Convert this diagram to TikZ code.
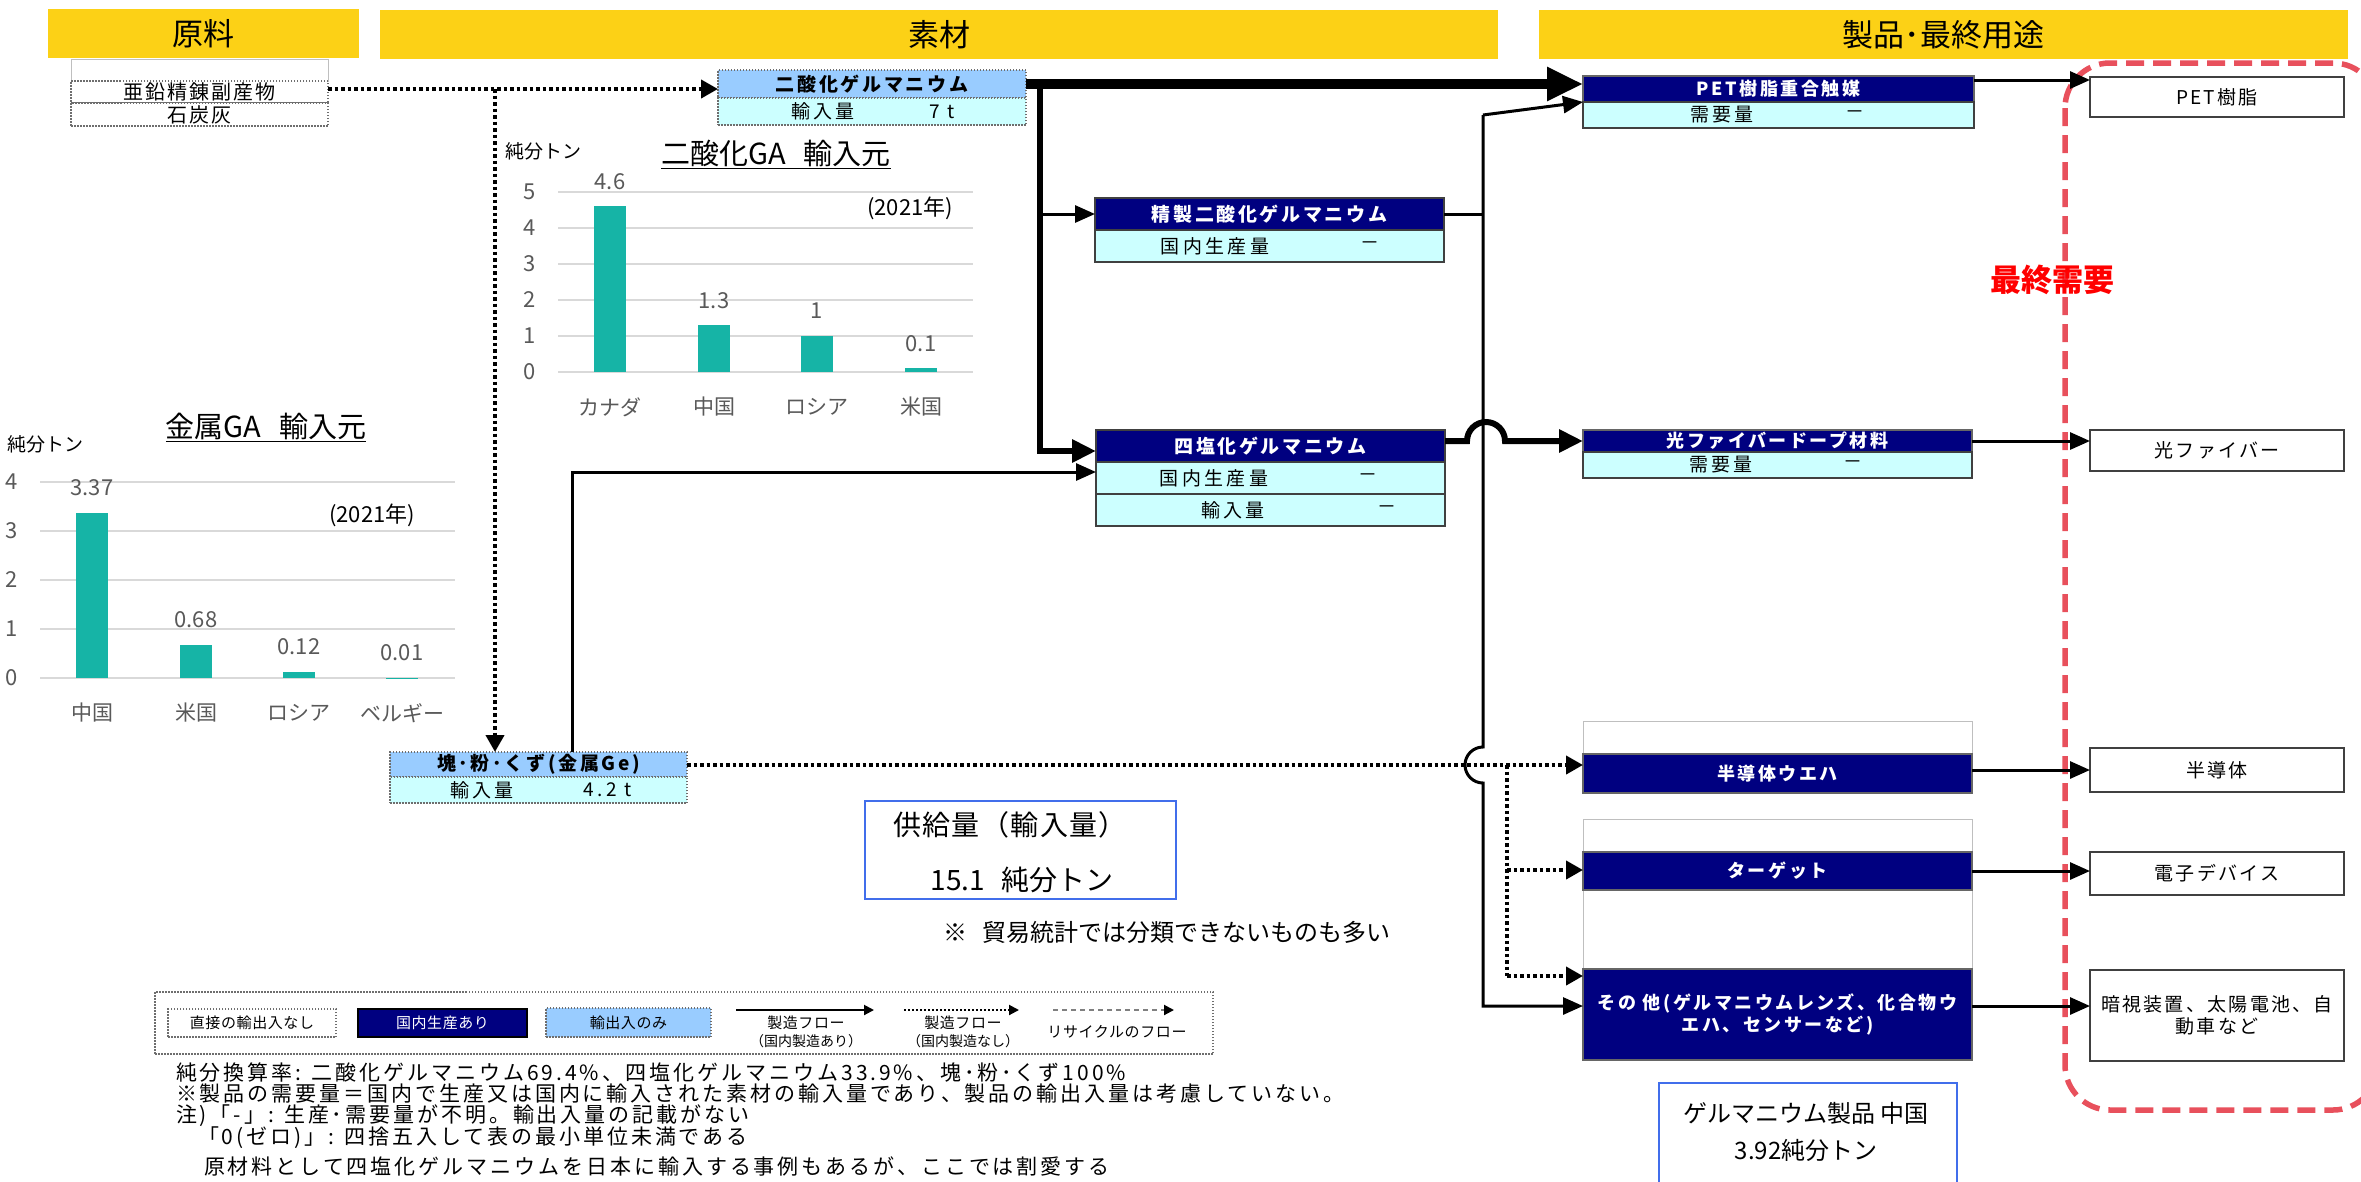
\documentclass[tikz,border=0pt]{standalone}
\usepackage{fontspec}
\setmainfont{Noto Sans CJK JP}
\usetikzlibrary{arrows.meta,calc}
\definecolor{hdrY}{RGB}{252,209,22}
\definecolor{navyC}{RGB}{0,0,128}
\definecolor{lblueC}{RGB}{153,204,255}
\definecolor{lcyanC}{RGB}{204,255,255}
\definecolor{barC}{RGB}{22,180,166}
\definecolor{gridC}{RGB}{217,217,217}
\definecolor{axisC}{RGB}{89,89,89}
\definecolor{redD}{RGB}{232,80,92}
\definecolor{blueB}{RGB}{65,110,235}
\definecolor{endB}{RGB}{64,64,64}
\definecolor{dotB}{RGB}{110,110,110}
\newcommand{\pxf}[1]{\fontsize{#1}{#1}\selectfont}
\newcommand{\lsp}[1]{\addfontfeatures{LetterSpace=#1}}
\newcommand{\rbox}[7]{\node[#2,minimum width={#5-#3},minimum height={#6-#4}] (#1) at ({(#3+#5)/2},{(#4+#6)/2}) {#7};}
\tikzset{
  hdr/.style={fill=hdrY,font=\pxf{31}},
  dotrow/.style={draw=dotB,line width=1.5pt,dash pattern=on 1.5pt off 1.5pt},
  lbhead/.style={dotrow,fill=lblueC,font=\pxf{19}\bfseries\lsp{14}},
  lcrow/.style={dotrow,fill=lcyanC},
  nvhead/.style={fill=navyC,draw=black!75,line width=1.5pt,text=white,font=\pxf{19}\bfseries\lsp{14}},
  cyrow/.style={fill=lcyanC,draw=black!75,line width=1.5pt},
  rowtxt/.style={font=\pxf{19}\lsp{18}},
  prodnv/.style={fill=navyC,draw=black!60,line width=1.5pt,text=white,font=\pxf{18}\bfseries\lsp{14}},
  wbox/.style={draw=black!25,line width=1pt,fill=white},
  endbox/.style={draw=endB,line width=2.5pt,fill=white,font=\pxf{19}\lsp{12}},
  bluebox/.style={draw=blueB,line width=2pt},
  axl/.style={text=axisC,font=\pxf{22}},
  catl/.style={text=axisC,font=\pxf{21}},
  gridl/.style={draw=gridC,line width=2pt},
  fline/.style={line width=3pt},
  fthin/.style={line width=3pt,-{Triangle[length=20pt,width=17pt]}},
  fthick/.style={line width=6pt,-{Triangle[length=24pt,width=22pt]}},
  fmain/.style={line width=10pt,-{Triangle[length=36pt,width=32pt]}},
  fdotline/.style={line width=4pt,dash pattern=on 3.5pt off 3pt},
  fdot/.style={fdotline,-{Triangle[length=17pt,width=18pt]}},
  noteT/.style={anchor=west,font=\pxf{21}\lsp{14}},
  legT/.style={font=\pxf{15}\lsp{4}},
}
\begin{document}
\begin{tikzpicture}[x=1pt,y=-1pt,every node/.style={inner sep=0pt,outer sep=0pt}]
\useasboundingbox (0,0) rectangle (2361,1181);
\clip (0,0) rectangle (2361,1181);
\fill[white] (0,0) rectangle (2361,1181);
% headers
\rbox{hRaw}{hdr}{48}{9}{359}{58}{原料}
\rbox{hMat}{hdr}{380}{10}{1498}{59}{素材}
\rbox{hProd}{hdr}{1539}{10}{2348}{59}{製品･最終用途}
% raw material
\rbox{rawT}{wbox}{71}{59}{328}{81}{}
\rbox{raw1}{dotrow,fill=white,font=\pxf{20}\lsp{10}}{71}{81}{328}{103}{亜鉛精錬副産物}
\rbox{raw2}{dotrow,fill=white,font=\pxf{20}\lsp{10}}{71}{103}{328}{126}{石炭灰}
% GeO2
\rbox{ga2h}{lbhead}{718}{70}{1026}{98}{二酸化ゲルマニウム}
\rbox{ga2r}{lcrow}{718}{98}{1026}{125}{}
\node[rowtxt] (ga2l) at (823,111.5) {輸入量};
\node[rowtxt] (ga2v) at (942,111.5) {7 t};
% metal Ge
\rbox{geh}{lbhead}{390}{752}{687}{777}{塊･粉･くず(金属Ge)}
\rbox{ger}{lcrow}{390}{777}{687}{803}{}
\node[rowtxt] (gel) at (482,790) {輸入量};
\node[rowtxt] (gev) at (608,790) {4.2 t};
% refined GeO2
\rbox{refh}{nvhead}{1095}{198}{1444}{230}{精製二酸化ゲルマニウム}
\rbox{refr}{cyrow}{1095}{230}{1444}{262}{}
\node[rowtxt] (refl) at (1215,246) {国内生産量};
\node[rowtxt] (refv) at (1370,246) {－};
% GeCl4
\rbox{teth}{nvhead}{1096}{430}{1445}{462}{四塩化ゲルマニウム}
\rbox{tetr1}{cyrow}{1096}{462}{1445}{494}{}
\rbox{tetr2}{cyrow}{1096}{494}{1445}{526}{}
\node[rowtxt] (tetl1) at (1214,478) {国内生産量};
\node[rowtxt] (tetv1) at (1368,478) {－};
\node[rowtxt] (tetl2) at (1233,510) {輸入量};
\node[rowtxt] (tetv2) at (1387,510) {－};
% products
\rbox{peth}{prodnv}{1583}{76}{1974}{102}{PET樹脂重合触媒}
\rbox{petr}{cyrow}{1583}{102}{1974}{128}{}
\node[rowtxt] (petl) at (1722,115) {需要量};
\node[rowtxt] (petv) at (1855,115) {－};
\rbox{fibh}{prodnv}{1583}{430}{1972}{452}{光ファイバードープ材料}
\rbox{fibr}{cyrow}{1583}{452}{1972}{478}{}
\node[rowtxt] (fibl) at (1721,465) {需要量};
\node[rowtxt] (fibv) at (1853,465) {－};
\rbox{semiT}{wbox}{1583}{721}{1972}{754}{}
\rbox{semiN}{prodnv}{1583}{754}{1972}{793}{半導体ウエハ}
\rbox{tgtT}{wbox}{1583}{819}{1972}{969}{}
\rbox{tgtN}{prodnv}{1583}{852}{1972}{890}{ターゲット}
\rbox{othN}{prodnv,align=center,font=\fontsize{18}{22}\selectfont\bfseries\lsp{14}}{1583}{969}{1972}{1060}{その 他(ゲルマニウムレンズ、化合物ウ\\エハ、センサーなど)}
% end uses
\draw[redD,line width=5.5pt,dash pattern=on 18pt off 9pt,rounded corners=45pt] (2065,63) rectangle (2378,1110);
\rbox{e1}{endbox}{2090}{77}{2344}{117}{PET樹脂}
\rbox{e2}{endbox}{2090}{430}{2344}{471}{光ファイバー}
\rbox{e3}{endbox}{2090}{748}{2344}{792}{半導体}
\rbox{e4}{endbox}{2090}{852}{2344}{895}{電子デバイス}
\rbox{e5}{endbox,align=center,font=\fontsize{19}{22}\selectfont\lsp{12}}{2090}{970}{2344}{1061}{暗視装置、太陽電池、自\\動車など}
\node[text=red,font=\pxf{31}\bfseries] (fd) at (2052,280) {最終需要};
% chart 1
\node[font=\pxf{19}] (c1u) at (543,151) {純分トン};
\node[font=\pxf{29}] (c1t) at (776,154) {\underline{二酸化GA\hspace{18pt}輸入元}};
\foreach \k in {0,...,5} {
  \draw[gridl] (558,{372-36*\k}) -- (973,{372-36*\k});
  \node[axl] at (530,{372-36*\k}) {\k};
}
\foreach \cx/\v/\c in {610/4.6/カナダ,714/1.3/中国,817/1/ロシア,921/0.1/米国} {
  \fill[barC] ({\cx-16},372) rectangle ({\cx+16},{372-36*\v});
  \node[axl] at (\cx,{372-36*\v-25}) {\v};
  \node[catl] at (\cx,407) {\c};
}
\node[font=\pxf{22}] (c1y) at (910,208) {(2021年)};
% chart 2
\node[font=\pxf{19}] (c2u) at (45,444) {純分トン};
\node[font=\pxf{29}] (c2t) at (266,427) {\underline{金属GA\hspace{18pt}輸入元}};
\foreach \k in {0,...,4} {
  \draw[gridl] (40,{678-49*\k}) -- (455,{678-49*\k});
  \node[axl] at (12,{678-49*\k}) {\k};
}
\foreach \cx/\v/\c in {92/3.37/中国,196/0.68/米国,299/0.12/ロシア,402/0.01/ベルギー} {
  \fill[barC] ({\cx-16},678) rectangle ({\cx+16},{678-49*\v});
  \node[axl] at (\cx,{678-49*\v-25}) {\v};
  \node[catl] at (\cx,713) {\c};
}
\node[font=\pxf{22}] (c2y) at (372,515) {(2021年)};
% supply boxes
\rbox{sup}{bluebox}{865}{801}{1176}{899}{}
\node[font=\pxf{28}\lsp{5}] (sup1) at (1010,825) {供給量（輸入量）};
\node[font=\pxf{28}] (sup2) at (1022,880) {15.1\hspace{16pt}純分トン};
\node[font=\pxf{24},anchor=west] (note0) at (943,932) {※\hspace{16pt}貿易統計では分類できないものも多い};
\rbox{chn}{bluebox}{1659}{1083}{1957}{1200}{}
\node[font=\pxf{24}] (chn1) at (1806,1113) {ゲルマニウム製品 中国};
\node[font=\pxf{24}] (chn2) at (1806,1150) {3.92純分トン};
% connectors
\coordinate (d1) at (495,89);
\draw[fdot] (raw1.east |- d1) -- (d1 -| ga2h.west);
\draw[fdot] (d1) -- (d1 |- geh.north);
\draw[fmain] (ga2h.east) -- (ga2h.east -| peth.west);
\coordinate (b1) at (1040,84);
\coordinate (b2) at (1040,451);
\draw[fthick] (b1) -- (b2) -- (b2 -| teth.west);
\coordinate (b3) at (1040,214);
\draw[fthin] (b3) -- (refh.west);
\coordinate (v1) at (1483,115);
\coordinate (h1) at (1483,747);
\coordinate (v2) at (1483,1006);
\draw[fline] (refh.east) -- (refh.east -| v1);
\draw[fthin] (v1) -- (peth.south west);
\draw[fthin] (v1) -- (h1) arc[start angle=90,end angle=270,radius=18pt] -- (v2) -- (v2 -| othN.west);
\draw[fthick] (teth.east |- fibh.west) -- ++(22,0) arc[start angle=180,end angle=0,radius=19pt] -- (fibh.west);
\coordinate (g1) at (572,472);
\draw[fthin] (g1 |- geh.north) -- (g1) -- (g1 -| tetr1.west);
\coordinate (d2) at (1507,765);
\coordinate (d3) at (1507,870);
\coordinate (d4) at (1507,976);
\draw[fdot] (geh.east |- d2) -- (d2 -| semiN.west);
\draw[fdotline] (d2) -- (d4);
\draw[fdot] (d3) -- (d3 -| tgtN.west);
\draw[fdot] (d4) -- (d4 -| othN.west);
\coordinate (p1) at ([yshift=9pt]peth.east);
\draw[fthin] (p1) -- (p1 -| e1.west);
\draw[fthin] (fibh.east) -- (fibh.east -| e2.west);
\draw[fthin] (e3.west -| semiN.east) -- (e3.west);
\draw[fthin] (tgtN.east) -- (tgtN.east -| e4.west);
\draw[fthin] (v2 -| othN.east) -- (v2 -| e5.west);
% legend
\rbox{leg}{dotrow}{155}{992}{1213}{1054}{}
\rbox{lg1}{dotrow,fill=white,legT}{168}{1009}{336}{1037}{直接の輸出入なし}
\rbox{lg2}{fill=navyC,draw=black,line width=2pt,text=white,legT}{358}{1009}{527}{1037}{国内生産あり}
\rbox{lg3}{dotrow,fill=lblueC,legT}{546}{1008}{711}{1037}{輸出入のみ}
\coordinate (la1) at (736,1010); \coordinate (la2) at (874,1010);
\draw[line width=2pt,-{Triangle[length=10pt,width=10pt]}] (la1) -- (la2);
\node[legT] (lt1) at (806,1023) {製造フロー};
\node[font=\pxf{14}] (lt2) at (806,1041) {（国内製造あり）};
\coordinate (lb1) at (904,1010); \coordinate (lb2) at (1019,1010);
\draw[line width=2pt,dash pattern=on 2pt off 2pt,-{Triangle[length=10pt,width=10pt]}] (lb1) -- (lb2);
\node[legT] (lt3) at (963,1023) {製造フロー};
\node[font=\pxf{14}] (lt4) at (963,1041) {（国内製造なし）};
\coordinate (lc1) at (1053,1010); \coordinate (lc2) at (1174,1010);
\draw[line width=2pt,draw=gray,dash pattern=on 5pt off 4pt,-{Triangle[length=10pt,width=10pt,color=black]}] (lc1) -- (lc2);
\node[legT] (lt5) at (1117,1032) {リサイクルのフロー};
% notes
\node[noteT] (n1) at (176,1073) {純分換算率: 二酸化ゲルマニウム69.4\%、四塩化ゲルマニウム33.9\%、塊･粉･くず100\%};
\node[noteT] (n2) at (176,1094) {※製品の需要量＝国内で生産又は国内に輸入された素材の輸入量であり、製品の輸出入量は考慮していない。};
\node[noteT] (n3) at (176,1116) {注)「-」: 生産･需要量が不明。輸出入量の記載がない};
\node[noteT] (n4) at (198,1138) {「0(ゼロ)」: 四捨五入して表の最小単位未満である};
\node[noteT] (n5) at (204,1166) {原材料として四塩化ゲルマニウムを日本に輸入する事例もあるが、ここでは割愛する};
\end{tikzpicture}
\end{document}
